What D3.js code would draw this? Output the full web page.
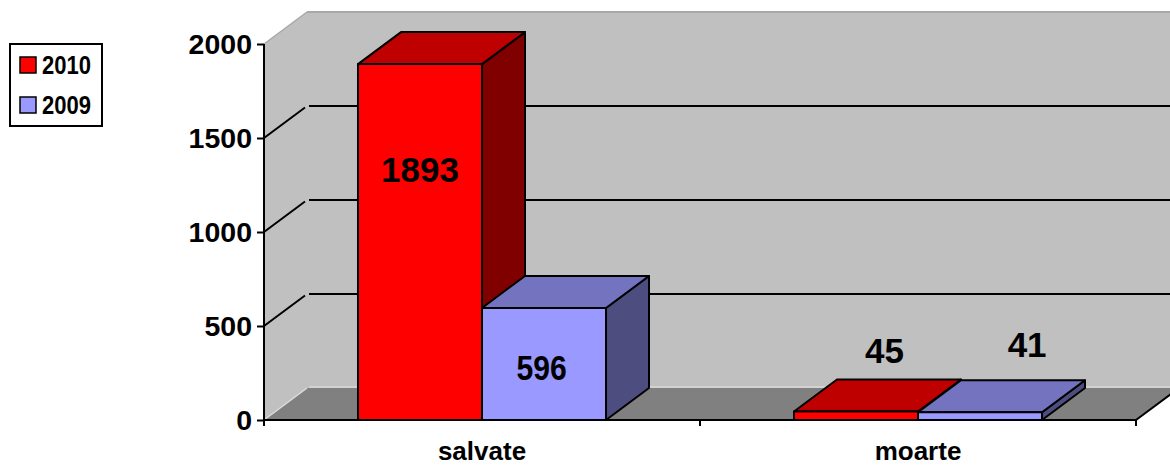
<!DOCTYPE html>
<html><head><meta charset="utf-8">
<script src="https://cdn.jsdelivr.net/npm/d3@7"></script>
<style>html,body{margin:0;padding:0;background:#fff;}svg{display:block;font-family:"Liberation Sans",Arial,sans-serif;font-weight:bold;}</style>
</head><body><svg id="c" width="1170" height="466"></svg>
<script>
const categories = ["salvate", "moarte"];
const seriesNames = ["2010", "2009"];
const values2010 = [1893, 45];
const values2009 = [596, 41];
const yTicks = [0, 500, 1000, 1500, 2000];
// label anchor (value units) and horizontal shift (fraction of bar width)
const labelLevel2010 = [1330, 372];
const labelLevel2009 = [279, 401];
const labelShift2010 = [0, 0.23];
const labelShift2009 = [-0.02, 0.38];

const colors = {
  "2010": {front: "#ff0000", top: "#bf0000", side: "#800000"},
  "2009": {front: "#9999ff", top: "#7373bf", side: "#4d4d80"}
};
const DX = 43, DY = -32;

const svg = d3.select("#c");
const y = d3.scaleLinear().domain([0, 2000]).range([420, 44]);
const x = d3.scaleBand().domain(categories).range([264, 1136]).padding(0);
const xs = d3.scaleBand().domain(seriesNames).range([0, x.bandwidth()]).paddingInner(0).paddingOuter(0.758);

const y0 = y(0), yTop = y(2000), xL = x.range()[0], xR = x.range()[1];
const pts = a => a.map(p => p.join(",")).join(" ");

// walls
svg.append("polygon").attr("points", pts([[xL+DX, yTop+DY],[xR+DX, yTop+DY],[xR+DX, y0+DY],[xL+DX, y0+DY]])).attr("fill", "#c0c0c0");
svg.append("polygon").attr("points", pts([[xL, yTop],[xL+DX, yTop+DY],[xL+DX, y0+DY],[xL, y0]])).attr("fill", "#c0c0c0");
svg.append("line").attr("x1", xL).attr("y1", yTop).attr("x2", xL+DX).attr("y2", yTop+DY).attr("stroke", "#a8a8a8").attr("stroke-width", 1.5);
svg.append("line").attr("x1", xL+DX).attr("y1", yTop+DY).attr("x2", 1170).attr("y2", yTop+DY).attr("stroke", "#a8a8a8").attr("stroke-width", 2);
// floor
svg.append("polygon").attr("points", pts([[xL, y0],[xL+DX, y0+DY],[xR+DX, y0+DY],[xR, y0]])).attr("fill", "#808080");
svg.append("line").attr("x1", xL+DX+2).attr("y1", y0+DY-1).attr("x2", 1170).attr("y2", y0+DY-1).attr("stroke", "#d8d8d8").attr("stroke-width", 1.5);
svg.append("line").attr("x1", xL).attr("y1", y0).attr("x2", xL+DX).attr("y2", y0+DY).attr("stroke", "#dcdcdc").attr("stroke-width", 1.5);
svg.append("line").attr("x1", xR).attr("y1", y0).attr("x2", xR+DX).attr("y2", y0+DY).attr("stroke", "#000").attr("stroke-width", 2);

// gridlines
yTicks.filter(t => t > 0 && t < 2000).forEach(t => {
  svg.append("line").attr("x1", xL).attr("y1", y(t)).attr("x2", xL+DX-2).attr("y2", y(t)+DY+1.5).attr("stroke", "#000").attr("stroke-width", 2);
  svg.append("line").attr("x1", xL+DX+2).attr("y1", y(t)+DY).attr("x2", 1170).attr("y2", y(t)+DY).attr("stroke", "#000").attr("stroke-width", 2);
});

// bars
const seriesVals = {"2010": values2010, "2009": values2009};
categories.forEach((c, j) => {
  seriesNames.forEach(s => {
    const v = seriesVals[s][j];
    const x0 = x(c) + xs(s), w = xs.bandwidth(), yv = y(v);
    const g = svg.append("g").attr("stroke", "#000").attr("stroke-width", 2).attr("stroke-linejoin", "round");
    g.append("polygon").attr("points", pts([[x0+w, yv],[x0+w+DX, yv+DY],[x0+w+DX, y0+DY],[x0+w, y0]])).attr("fill", colors[s].side);
    g.append("polygon").attr("points", pts([[x0, yv],[x0+DX, yv+DY],[x0+w+DX, yv+DY],[x0+w, yv]])).attr("fill", colors[s].top);
    g.append("rect").attr("x", x0).attr("y", yv).attr("width", w).attr("height", y0 - yv).attr("fill", colors[s].front);
  });
});

// data labels
const lv = {"2010": labelLevel2010, "2009": labelLevel2009};
const ls = {"2010": labelShift2010, "2009": labelShift2009};
categories.forEach((c, j) => {
  seriesNames.forEach(s => {
    const cx = x(c) + xs(s) + xs.bandwidth() * (0.5 + ls[s][j]);
    const cy = y(lv[s][j]);
    const narrow = (s === "2009" && j === 0) ? 0.86 : 1;
    svg.append("text").attr("transform", `translate(${cx},${cy + 12.5}) scale(${narrow},1)`)
      .attr("text-anchor", "middle").attr("font-size", 35).attr("fill", "#000")
      .text(seriesVals[s][j]);
  });
});

// y axis
const ya = svg.append("g").attr("transform", `translate(${xL},0)`)
  .call(d3.axisLeft(y).tickValues(yTicks).tickSize(7).tickPadding(5).tickFormat(d3.format("d")));
ya.select(".domain").attr("stroke", "#000").attr("stroke-width", 2).attr("d", `M0,${yTop}V${y0 + 4}`);
ya.selectAll(".tick line").attr("stroke", "#000").attr("stroke-width", 2);
ya.selectAll(".tick text").attr("font-size", 28.5).attr("font-family", "Liberation Sans, Arial, sans-serif").attr("font-weight", "bold").attr("fill", "#000").attr("dy", "0.35em");

// x axis
const xa = svg.append("g").attr("transform", `translate(0,${y0})`)
  .call(d3.axisBottom(x).tickSize(0).tickPadding(22));
xa.select(".domain").attr("stroke", "#000").attr("stroke-width", 2).attr("d", `M${xL},0H${xR}`);
xa.selectAll(".tick text").attr("font-size", 26).attr("font-family", "Liberation Sans, Arial, sans-serif").attr("font-weight", "bold").attr("fill", "#000");
const bounds = categories.map(c => x(c)).concat([xR]);
xa.selectAll(".bt").data(bounds).join("line").attr("class", "bt")
  .attr("x1", d => d).attr("x2", d => d).attr("y1", 0).attr("y2", 6).attr("stroke", "#000").attr("stroke-width", 2);

// legend
const lg = svg.append("g");
lg.append("rect").attr("x", 10).attr("y", 44).attr("width", 92).attr("height", 82).attr("fill", "#fff").attr("stroke", "#000").attr("stroke-width", 2);
seriesNames.forEach((s, i) => {
  const yy = 57 + i * 40;
  lg.append("rect").attr("x", 20).attr("y", yy).attr("width", 16).attr("height", 16).attr("fill", colors[s].front).attr("stroke", "#000").attr("stroke-width", 1.5);
  lg.append("text").attr("transform", `translate(42,${yy + 17}) scale(0.88,1)`).attr("font-size", 25).attr("fill", "#000").text(s);
});
</script></body></html>
